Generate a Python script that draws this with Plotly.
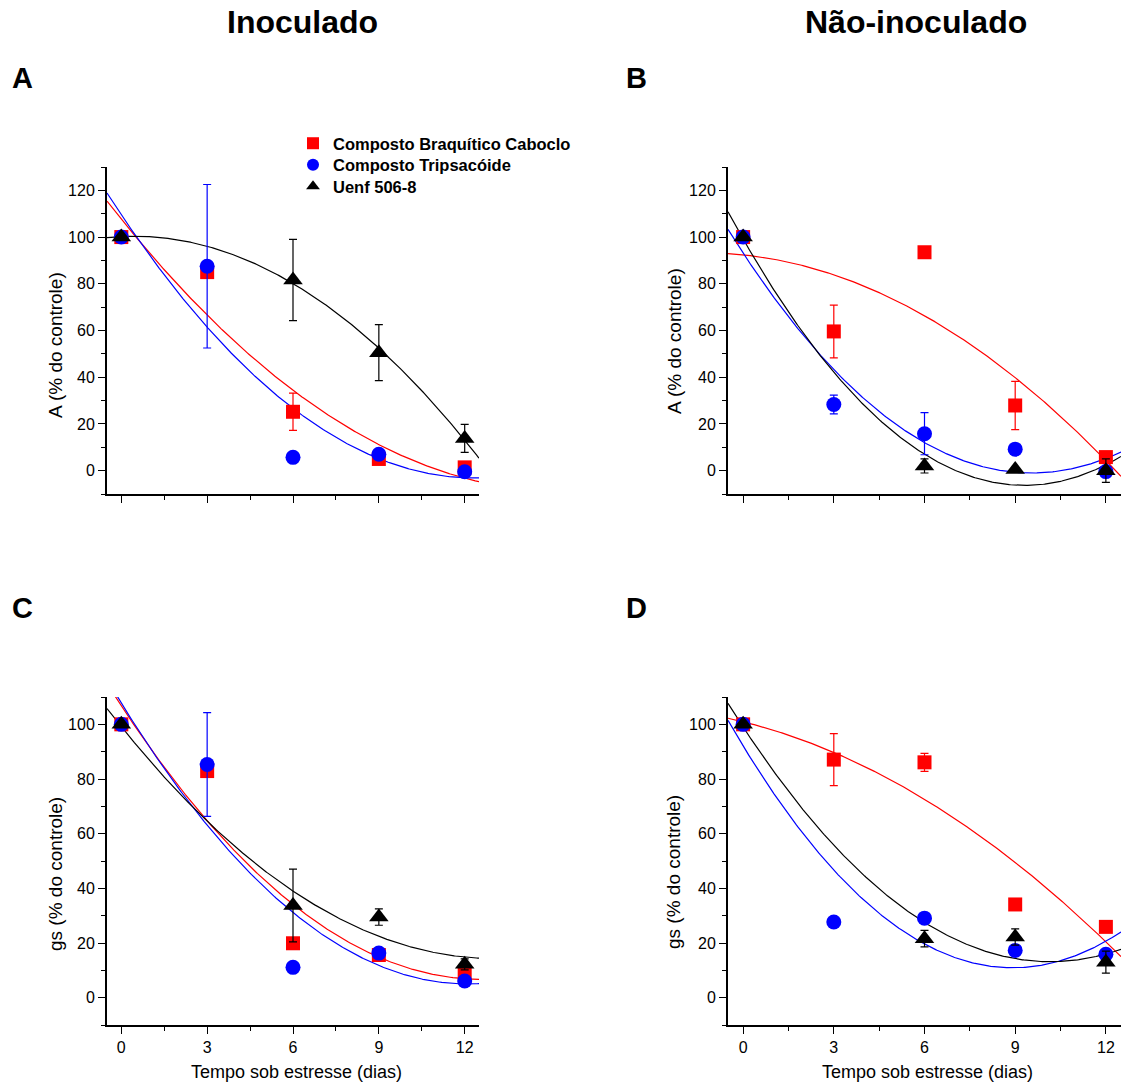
import numpy as np
import plotly.graph_objects as go

W, H = 1127, 1084
FONT = "Liberation Sans, Arial, sans-serif"

days = [0, 3, 6, 9, 12]
series_names = ["Composto Braquítico Caboclo", "Composto Tripsacóide", "Uenf 506-8"]
colors = ["#FF0000", "#0000FF", "#000000"]
symbols = ["square", "circle", "triangle-up"]
sizes = [14, 15, 17]

# Panel A: A (% do controle), inoculado
A_red = [100, 85, 25.2, 5, 1.4]
A_red_err = [0, 1, 8, 1.5, 1.5]
A_blue = [100, 87.5, 5.7, 7, -0.5]
A_blue_err = [0, 35, 0, 0, 0]
A_black = [100, None, 81.6, 50.5, 13.8]
A_black_err = [0, 0, 17.4, 12, 6]

# Panel B: A (% do controle), não-inoculado
B_red = [100, 59.6, 93.5, 27.9, 5.8]
B_red_err = [0, 11.3, 0, 10.3, 1]
B_blue = [100, 28.3, 15.8, 9.2, -0.4]
B_blue_err = [0, 4, 9, 0, 0]
B_black = [100, None, 2, 0.5, 0]
B_black_err = [0, 0, 3, 0, 5]

# Panel C: gs (% do controle), inoculado
C_red = [100, 82.9, 19.9, 15.6, 8.9]
C_red_err = [0, 1, 2, 2, 2]
C_blue = [100, 85.3, 11.1, 16.3, 6.1]
C_blue_err = [0, 19, 0, 0, 0]
C_black = [100, None, 33.7, 29.5, 12.2]
C_black_err = [0, 0, 13.3, 3, 2]

# Panel D: gs (% do controle), não-inoculado
D_red = [100, 87.1, 86.1, 34.1, 25.9]
D_red_err = [0, 9.5, 3.3, 0, 0]
D_blue = [100, 27.7, 29.1, 17.3, 15.9]
D_blue_err = [0, 0, 0, 0, 0]
D_black = [100, None, 21.6, 22.2, 13]
D_black_err = [0, 0, 3, 3, 4]

y_ticks_AB = [0, 20, 40, 60, 80, 100, 120]
y_ticks_CD = [0, 20, 40, 60, 80, 100]
x_ticks = [0, 3, 6, 9, 12]

panels = [
    ("", [(A_red, A_red_err), (A_blue, A_blue_err), (A_black, A_black_err)]),
    ("2", [(B_red, B_red_err), (B_blue, B_blue_err), (B_black, B_black_err)]),
    ("3", [(C_red, C_red_err), (C_blue, C_blue_err), (C_black, C_black_err)]),
    ("4", [(D_red, D_red_err), (D_blue, D_blue_err), (D_black, D_black_err)]),
]

fig = go.Figure()
xs = np.array(days, dtype=float)
xgrid = np.linspace(-0.5, 12.5, 300)

for suffix, data in panels:
    xa = "x" + suffix
    ya = "y" + suffix
    # fitted quadratic curves (polynomial fit of the plotted means)
    for (vals, err), col in zip(data, colors):
        v = np.array([np.nan if q is None else q for q in vals], dtype=float)
        m = ~np.isnan(v)
        coef = np.polyfit(xs[m], v[m], 2)
        fig.add_trace(go.Scatter(x=xgrid, y=np.polyval(coef, xgrid), mode="lines",
                                 line=dict(color=col, width=1.2), xaxis=xa, yaxis=ya,
                                 showlegend=False, hoverinfo="skip"))
    for (vals, err), col, sym, sz in zip(data, colors, symbols, sizes):
        fig.add_trace(go.Scatter(x=days, y=vals, mode="markers",
                                 marker=dict(color=col, symbol=sym, size=sz, line=dict(width=0)),
                                 error_y=dict(type="data", array=err, visible=True,
                                              color=col, thickness=1.2, width=4),
                                 xaxis=xa, yaxis=ya, showlegend=False, cliponaxis=False))


def px_x(p):
    return p / W


def px_y(p):
    return 1 - p / H


# legend entries, one legend per row for exact placement
legend_ids = ["legend", "legend2", "legend3"]
legend_tops = [126, 147.5, 169]
for name, col, sym, sz, lid in zip(series_names, colors, symbols, sizes, legend_ids):
    fig.add_trace(go.Scatter(x=[None], y=[None], mode="markers", name="<b>" + name + "</b>",
                             marker=dict(color=col, symbol=sym, size=sz), xaxis="x", yaxis="y",
                             legend=lid, showlegend=True))

legend_layout = {}
for lid, top in zip(legend_ids, legend_tops):
    legend_layout[lid] = dict(x=px_x(293), y=px_y(top), xanchor="left", yanchor="top",
                              font=dict(size=16.5, family=FONT, color="black"),
                              bgcolor="rgba(0,0,0,0)", itemsizing="constant")


def xaxis(domain, show_labels):
    return dict(domain=domain, range=[-0.5, 12.5], tickvals=x_ticks, showticklabels=show_labels,
                ticks="outside", ticklen=7, tickwidth=1.2, tickcolor="black",
                minor=dict(dtick=1.5, tick0=0, ticks="outside", ticklen=4, tickwidth=1.2, tickcolor="black"),
                showline=True, linewidth=2, linecolor="black", showgrid=False, zeroline=False,
                tickfont=dict(size=16, color="black", family=FONT))


def yaxis(domain, rng, ticks, anchor):
    return dict(domain=domain, range=rng, tickvals=ticks, anchor=anchor,
                ticks="outside", ticklen=7, tickwidth=1.2, tickcolor="black",
                minor=dict(dtick=10, tick0=0, ticks="outside", ticklen=4, tickwidth=1.2, tickcolor="black"),
                showline=True, linewidth=2, linecolor="black", showgrid=False, zeroline=False,
                tickfont=dict(size=16, color="black", family=FONT))


xdomL = [px_x(107), px_x(479)]
xdomR = [px_x(728), px_x(1121)]
ydomT = [px_y(494), px_y(167)]
ydomB = [px_y(1025), px_y(697)]

fig.update_layout(
    width=W, height=H, margin=dict(l=0, r=0, t=0, b=0),
    plot_bgcolor="white", paper_bgcolor="white",
    font=dict(family=FONT, color="black"),
    xaxis=dict(**xaxis(xdomL, False), anchor="y"),
    yaxis=yaxis(ydomT, [-10, 130], y_ticks_AB, "x"),
    xaxis2=dict(**xaxis(xdomR, False), anchor="y2"),
    yaxis2=yaxis(ydomT, [-10, 130], y_ticks_AB, "x2"),
    xaxis3=dict(**xaxis(xdomL, True), anchor="y3"),
    yaxis3=yaxis(ydomB, [-10, 110], y_ticks_CD, "x3"),
    xaxis4=dict(**xaxis(xdomR, True), anchor="y4"),
    yaxis4=yaxis(ydomB, [-10, 110], y_ticks_CD, "x4"),
    showlegend=True,
    **legend_layout,
)

ann = []


def text(x, y, s, size, bold=False, angle=0):
    ann.append(dict(x=px_x(x), y=px_y(y), xref="paper", yref="paper", text=("<b>%s</b>" % s) if bold else s,
                    showarrow=False, xanchor="center", yanchor="middle", textangle=angle,
                    font=dict(size=size, family=FONT, color="black")))


text(302, 22, "Inoculado", 32, bold=True)
text(916, 22, "Não-inoculado", 32, bold=True)
text(23, 78, "A", 29, bold=True)
text(636, 78, "B", 29, bold=True)
text(23, 608, "C", 29, bold=True)
text(636, 608, "D", 29, bold=True)
text(55, 345, "A (% do controle)", 19, angle=-90)
text(674, 341, "A (% do controle)", 19, angle=-90)
text(55, 874, "gs (% do controle)", 19, angle=-90)
text(673, 872, "gs (% do controle)", 19, angle=-90)
text(296, 1072, "Tempo sob estresse (dias)", 18)
text(927, 1072, "Tempo sob estresse (dias)", 18)

fig.update_layout(annotations=ann)
fig.write_html("out.html", config={"displayModeBar": False},
               post_script="document.body.style.margin='0';document.body.style.overflow='hidden';")
